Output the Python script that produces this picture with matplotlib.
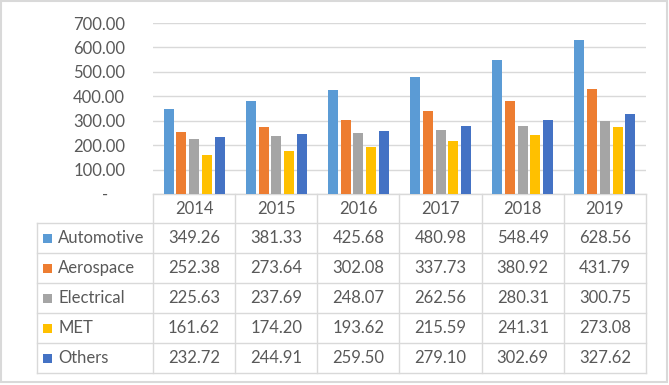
import matplotlib.pyplot as plt
from matplotlib.transforms import blended_transform_factory
from matplotlib.patches import Rectangle

years = ["2014", "2015", "2016", "2017", "2018", "2019"]
series = ["Automotive", "Aerospace", "Electrical", "MET", "Others"]
automotive = [349.26, 381.33, 425.68, 480.98, 548.49, 628.56]
aerospace = [252.38, 273.64, 302.08, 337.73, 380.92, 431.79]
electrical = [225.63, 237.69, 248.07, 262.56, 280.31, 300.75]
met = [161.62, 174.20, 193.62, 215.59, 241.31, 273.08]
others = [232.72, 244.91, 259.50, 279.10, 302.69, 327.62]
values = [automotive, aerospace, electrical, met, others]
colors = ["#5B9BD5", "#ED7D31", "#A5A5A5", "#FFC000", "#4472C4"]
yticks = [0, 100, 200, 300, 400, 500, 600, 700]

plt.rcParams["font.family"] = ["Lato", "DejaVu Sans"]
W, H = 669, 385
fig = plt.figure(figsize=(W / 100, H / 100), dpi=100)

def fx(px):
    return px / W

def fy(py):
    return 1 - py / H

ax = fig.add_axes([fx(153), fy(194), fx(646) - fx(153), fy(23) - fy(194)])
txtc = "#595959"
linec = "#D9D9D9"
fs = 12

step = 0.155
width = 0.122
x = list(range(len(years)))
for i, (name, vals, c) in enumerate(zip(series, values, colors)):
    off = (i - 2) * step
    ax.bar([xi + off for xi in x], vals, width=width, color=c, zorder=3)

ax.set_xlim(-0.5, len(years) - 0.5)
ax.set_ylim(0, 700)
ax.set_yticks(yticks)
ax.set_yticklabels([f"{v:.2f}" if v else "-    " for v in yticks])
ax.tick_params(axis="y", length=0, pad=20, labelsize=fs, labelcolor=txtc)
ax.set_xticks([])
for s in ax.spines.values():
    s.set_visible(False)
ax.grid(axis="y", color=linec, lw=1, zorder=0)

# data table below the plot
tr = blended_transform_factory(ax.transData, fig.transFigure)
rows = [194, 223, 253, 283, 313, 343, 373]
x0, x1 = -0.5, len(years) - 0.5
ax.plot([x0, x1], [fy(rows[0])] * 2, transform=tr, color=linec, lw=1, clip_on=False)
for r in rows[1:]:
    fig.add_artist(plt.Line2D([fx(37), fx(646)], [fy(r)] * 2, color=linec, lw=1))
for k in range(len(years) + 1):
    ax.plot([x0 + k, x0 + k], [fy(rows[0]), fy(rows[-1])], transform=tr,
            color=linec, lw=1, clip_on=False)
fig.add_artist(plt.Line2D([fx(37), fx(37)], [fy(rows[1]), fy(rows[-1])], color=linec, lw=1))

for xi, yr in zip(x, years):
    ax.text(xi, fy((rows[0] + rows[1]) / 2), yr, transform=tr, ha="center", va="center",
            fontsize=fs, color=txtc, clip_on=False)
for j, (name, vals, c) in enumerate(zip(series, values, colors)):
    yc = fy((rows[j + 1] + rows[j + 2]) / 2)
    fig.add_artist(Rectangle((fx(43), yc - 4.5 / H), 9 / W, 9 / H, color=c, lw=0))
    fig.text(fx(58), yc, name, ha="left", va="center", fontsize=fs, color=txtc)
    for xi, v in zip(x, vals):
        ax.text(xi, yc, f"{v:.2f}", transform=tr, ha="center", va="center",
                fontsize=fs, color=txtc, clip_on=False)

# chart area border
fig.add_artist(Rectangle((fx(1), fy(382)), fx(666), fy(1) - fy(382),
                         fill=False, edgecolor=linec, lw=1.5))

fig.savefig("out.png", dpi=100)
